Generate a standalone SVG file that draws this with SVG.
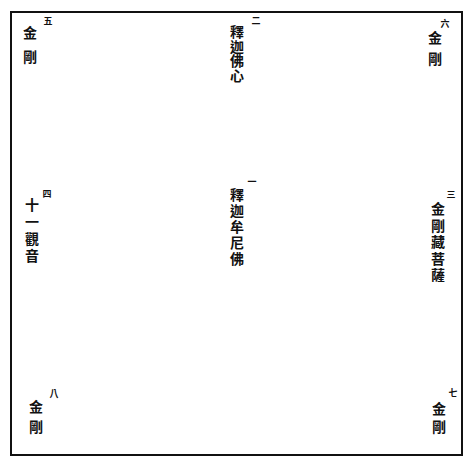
<svg xmlns="http://www.w3.org/2000/svg" width="476" height="468" viewBox="0 0 476 468">
<style>
.frame{fill:none;stroke:#111;stroke-width:2}
.t{font-family:"Noto Sans CJK TC","Noto Sans CJK JP",sans-serif;font-size:14px;font-weight:700;fill:#111;writing-mode:vertical-rl;text-orientation:upright}
.n{font-family:"Noto Sans CJK TC","Noto Sans CJK JP",sans-serif;font-size:9px;font-weight:700;fill:#111;text-anchor:middle}
</style>
<rect width="476" height="468" fill="#fff"/>
<rect class="frame" x="11" y="12" width="451" height="443"/>
<g id="node-1">
<text class="n" x="252" y="185">一</text>
<text class="t" x="237" y="188" letter-spacing="2">釋迦牟尼佛</text>
</g>
<g id="node-2">
<text class="n" x="256" y="24">二</text>
<text class="t" x="237" y="25" letter-spacing="0.5">釋迦佛心</text>
</g>
<g id="node-3">
<text class="n" x="451" y="198">三</text>
<text class="t" x="438" y="202" letter-spacing="2.5">金剛藏菩薩</text>
</g>
<g id="node-4">
<text class="n" x="47" y="197">四</text>
<text class="t" x="32" y="198" letter-spacing="3">十一觀音</text>
</g>
<g id="node-5">
<text class="n" x="48" y="24">五</text>
<text class="t" x="30" y="26" letter-spacing="9.5">金剛</text>
</g>
<g id="node-6">
<text class="n" x="445" y="27">六</text>
<text class="t" x="435" y="31" letter-spacing="7">金剛</text>
</g>
<g id="node-7">
<text class="n" x="453" y="396">七</text>
<text class="t" x="439" y="402" letter-spacing="3.5">金剛</text>
</g>
<g id="node-8">
<text class="n" x="54" y="397">八</text>
<text class="t" x="36" y="400" letter-spacing="6">金剛</text>
</g>
</svg>
